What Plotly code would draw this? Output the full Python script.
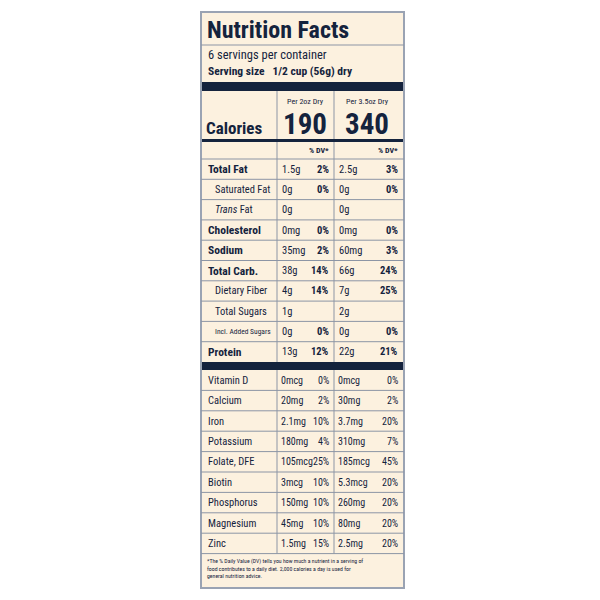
import plotly.graph_objects as go

NAVY = "#14233d"
LINE = "#8c95a5"
BG = "#fcf1df"
FONT = "Roboto Condensed, Liberation Sans Narrow, Roboto, sans-serif"

title = "Nutrition Facts"
servings = "6 servings per container"
serving_size = "Serving size   1/2 cup (56g) dry"
col_heads = ["Per 2oz Dry", "Per 3.5oz Dry"]
calories = ["190", "340"]

nutrients = ["Total Fat", "Saturated Fat", "<i>Trans</i> Fat", "Cholesterol", "Sodium",
             "Total Carb.", "Dietary Fiber", "Total Sugars", "Incl. Added Sugars", "Protein"]
bold_flags = [True, False, False, True, True, True, False, False, False, True]
indent_flags = [False, True, True, False, False, False, True, True, True, False]
amt1 = ["1.5g", "0g", "0g", "0mg", "35mg", "38g", "4g", "1g", "0g", "13g"]
dv1 = ["2%", "0%", "", "0%", "2%", "14%", "14%", "", "0%", "12%"]
amt2 = ["2.5g", "0g", "0g", "0mg", "60mg", "66g", "7g", "2g", "0g", "22g"]
dv2 = ["3%", "0%", "", "0%", "3%", "24%", "25%", "", "0%", "21%"]

vitamins = ["Vitamin D", "Calcium", "Iron", "Potassium", "Folate, DFE", "Biotin",
            "Phosphorus", "Magnesium", "Zinc"]
vamt1 = ["0mcg", "20mg", "2.1mg", "180mg", "105mcg", "3mcg", "150mg", "45mg", "1.5mg"]
vdv1 = ["0%", "2%", "10%", "4%", "25%", "10%", "10%", "10%", "15%"]
vamt2 = ["0mcg", "30mg", "3.7mg", "310mg", "185mcg", "5.3mcg", "260mg", "80mg", "2.5mg"]
vdv2 = ["0%", "2%", "20%", "7%", "45%", "20%", "20%", "20%", "20%"]

footnote = ("*The % Daily Value (DV) tells you how much a nutrient in a serving of<br>"
            "food contributes to a daily diet. 2,000 calories a day is used for<br>"
            "general nutrition advice.")

L, R = 201, 404
C1, C2 = 277, 334
shapes, ann = [], []

def hline(y, w=1, color=LINE, x0=L, x1=R):
    shapes.append(dict(type="line", x0=x0, x1=x1, y0=y, y1=y, line=dict(color=color, width=w)))

def rect(y0, y1, color=NAVY):
    shapes.append(dict(type="rect", x0=L + 1, x1=R - 1, y0=y0, y1=y1, fillcolor=color, line_width=0))

def txt(x, y, s, size, bold=False, anchor="left", color=NAVY):
    if bold:
        s = "<b>" + s + "</b>"
    ann.append(dict(x=x, y=y, text=s, showarrow=False, xanchor=anchor, yanchor="middle",
                    font=dict(family=FONT, size=size, color=color)))

shapes.append(dict(type="rect", x0=L, x1=R, y0=12, y1=588, fillcolor=BG, line=dict(color="#9aa3b3", width=2)))
txt(205, 30, title, 24, True)
hline(45)
txt(206, 54, servings, 12.5)
txt(206, 71, serving_size, 11.5, True)
rect(82, 91)
txt(204, 128, "Calories", 17, True)
for i, x in enumerate([305, 367]):
    txt(x, 101, col_heads[i], 8, anchor="center")
    txt(x, 124, calories[i], 29, True, anchor="center")
rect(139, 142)
txt(331, 150, "% DV*", 8, True, anchor="right")
txt(400, 150, "% DV*", 8, True, anchor="right")
hline(159)

y0, step = 159, 20.3
for i, n in enumerate(nutrients):
    yc = y0 + step * (i + 0.5)
    b = bold_flags[i]
    txt(213 if indent_flags[i] else 206, yc, n, 7.5 if n.startswith("Incl") else (11.5 if b else 10.5), b)
    txt(280, yc, amt1[i], 10.5)
    txt(331, yc, dv1[i], 10.5, True, anchor="right")
    txt(337, yc, amt2[i], 10.5)
    txt(400, yc, dv2[i], 10.5, True, anchor="right")
    if i < len(nutrients) - 1:
        hline(y0 + step * (i + 1))
rect(362, 370)

v0, vstep = 370, 20.4
for i, n in enumerate(vitamins):
    yc = v0 + vstep * (i + 0.5)
    txt(206, yc, n, 10.5)
    txt(279, yc, vamt1[i], 10)
    txt(331, yc, vdv1[i], 10, anchor="right")
    txt(336, yc, vamt2[i], 10)
    txt(400, yc, vdv2[i], 10, anchor="right")
    hline(v0 + vstep * (i + 1))
vend = v0 + vstep * len(vitamins)
for x in (C1, C2):
    shapes.append(dict(type="line", x0=x, x1=x, y0=91, y1=139, line=dict(color=LINE, width=1)))
    shapes.append(dict(type="line", x0=x, x1=x, y0=142, y1=362, line=dict(color=LINE, width=1)))
    shapes.append(dict(type="line", x0=x, x1=x, y0=370, y1=vend, line=dict(color=LINE, width=1)))
ann.append(dict(x=205, y=vend + 2, text=footnote, showarrow=False, xanchor="left", yanchor="top",
                align="left", font=dict(family=FONT, size=5.8, color=NAVY)))

fig = go.Figure()
fig.update_layout(width=600, height=600, margin=dict(l=0, r=0, t=0, b=0),
                  paper_bgcolor="white", plot_bgcolor="white", shapes=shapes, annotations=ann,
                  xaxis=dict(range=[8, 608], visible=False, fixedrange=True),
                  yaxis=dict(range=[608, 8], visible=False, fixedrange=True), showlegend=False)
fig.write_html("out.html")
